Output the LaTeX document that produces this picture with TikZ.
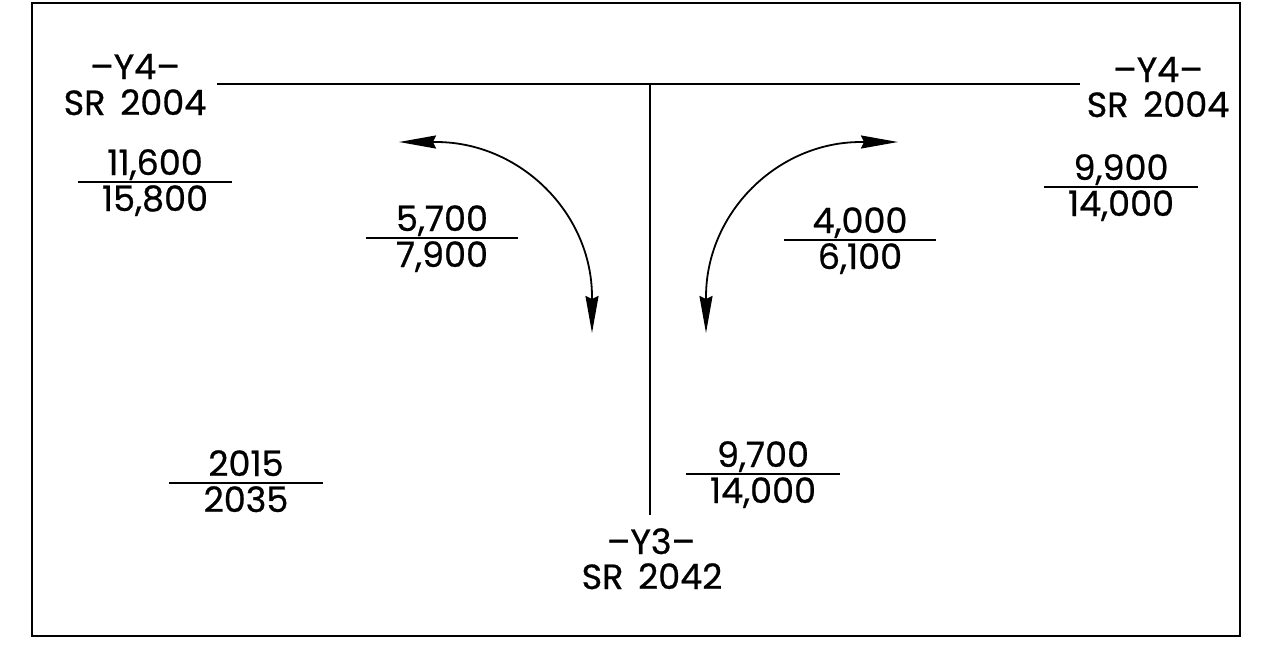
\documentclass[tikz,border=0pt]{standalone}
\usepackage{fontspec}
\setmainfont{Poppins}[FakeBold=0.7]
\usetikzlibrary{arrows.meta}
\tikzset{
  lbl/.style={inner sep=0pt, anchor=base, font=\fontsize{35}{38}\selectfont},
  rule/.style={line width=1.8pt},
  turn/.style={line width=1.8pt, {Stealth[length=37pt,width=13pt,inset=3pt]}-{Stealth[length=37pt,width=13pt,inset=3pt]}},
}
\newcommand{\gap}{\hspace{0.42em}}
% fraction: name, center x, bar y, half width, numerator, denominator
\newcommand{\flowfrac}[6]{%
  \node[lbl] (#1n) at (#2,#3-7) {#5};
  \node[lbl] (#1d) at (#2,#3+29) {#6};
  \coordinate (#1a) at (#2-#4,#3);
  \coordinate (#1b) at (#2+#4,#3);
  \draw[rule] (#1a) -- (#1b);
}
\begin{document}
\begin{tikzpicture}[x=1pt,y=-1pt]
\useasboundingbox (0,0) rectangle (1274,657);
\draw[rule] (32,3) rectangle (1240,636);
% roads
\coordinate (hl) at (217,84);
\coordinate (hr) at (1080,84);
\coordinate (tj) at (650,84);
\coordinate (vb) at (650,515);
\draw[rule] (hl) -- (hr);
\draw[rule] (tj) -- (vb);
% road labels
\node[lbl] (wy4) at (135,79) {–Y4–};
\node[lbl] (wsr) at (135,115) {SR\gap 2004};
\node[lbl] (ey4) at (1158,82) {–Y4–};
\node[lbl] (esr) at (1158,117) {SR\gap 2004};
\node[lbl] (sy3) at (651,554) {–Y3–};
\node[lbl] (ssr) at (652,589) {SR\gap 2042};
% volumes
\flowfrac{wv}{155}{182}{77}{11,600}{15,800}
\flowfrac{ev}{1121}{187}{77}{9,900}{14,000}
\flowfrac{lt}{442}{238}{76}{5,700}{7,900}
\flowfrac{rt}{860}{240}{76}{4,000}{6,100}
\flowfrac{sv}{763}{474}{77}{9,700}{14,000}
\flowfrac{yr}{246}{483}{77}{2015}{2035}
% turning arrows
\coordinate (la) at (399,142);
\coordinate (la2) at (436,142);
\coordinate (lb2) at (592,297);
\coordinate (lb) at (592,333);
\coordinate (ra) at (898,142);
\coordinate (ra2) at (861,142);
\coordinate (rb2) at (706,297);
\coordinate (rb) at (706,333);
\draw[turn] (la) -- (la2) .. controls (520,142) and (592,213) .. (lb2) -- (lb);
\draw[turn] (ra) -- (ra2) .. controls (777,142) and (706,213) .. (rb2) -- (rb);
\end{tikzpicture}
\end{document}
